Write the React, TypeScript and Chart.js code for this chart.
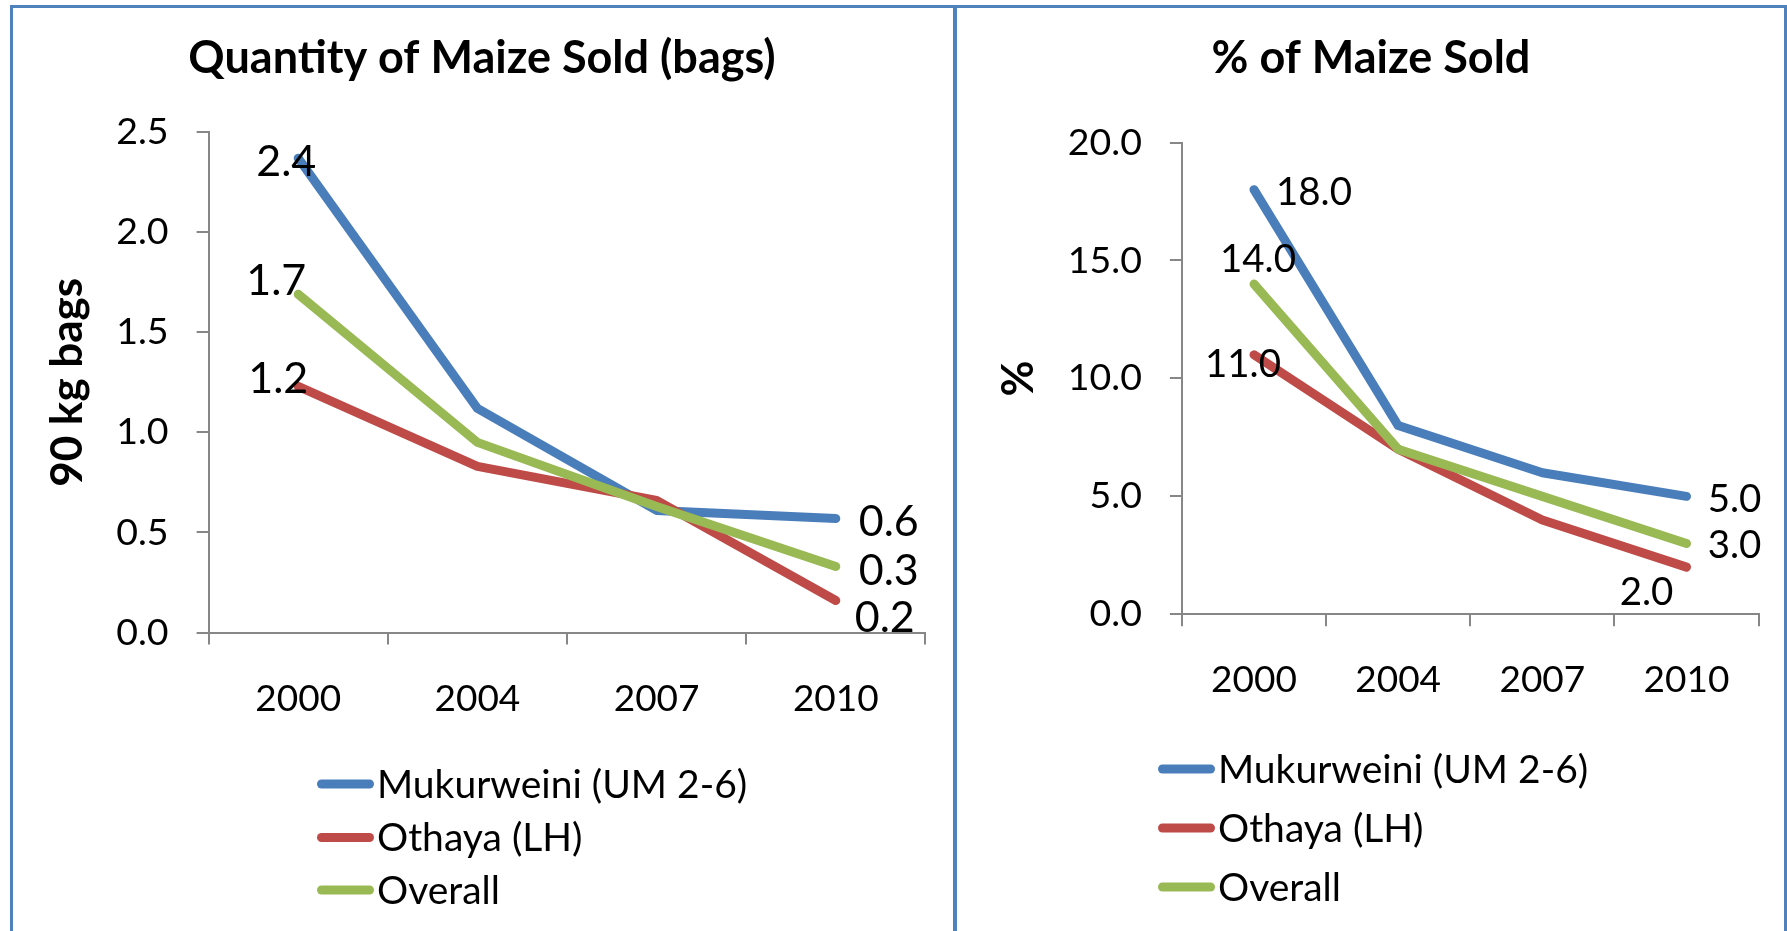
import React, { useEffect, useRef } from 'react';
import { Chart, registerables } from 'chart.js';

Chart.register(...registerables);

// ---------------- data ----------------
const YEARS = ['2000', '2004', '2007', '2010'];
const SERIES_NAMES = ['Mukurweini (UM 2-6)', 'Othaya (LH)', 'Overall'];
const SERIES_COLORS = ['#4A7EBB', '#BE4B48', '#98B954'];

const QTY_MUKURWEINI = [2.37, 1.12, 0.61, 0.57];
const QTY_OTHAYA = [1.23, 0.83, 0.66, 0.16];
const QTY_OVERALL = [1.69, 0.95, 0.63, 0.33];
const QTY_TICKS = [0, 0.5, 1.0, 1.5, 2.0, 2.5];

const PCT_MUKURWEINI = [18, 8, 6, 5];
const PCT_OTHAYA = [11, 7, 4, 2];
const PCT_OVERALL = [14, 7, 5, 3];
const PCT_TICKS = [0, 5, 10, 15, 20];

// ---------------- styles ----------------
const FONT = 'Lato, "Noto Sans", sans-serif';
const PAGE_W = 1787;
const PAGE_H = 931;
const AXIS_COLOR = '#878787';
const BORDER_COLOR = '#4F81BD';
const TITLE_SIZE = 45;
const TICK_SIZE = 37.5;
const XTICK_SIZE = 37;
const AXIS_TITLE_SIZE = 44;
const LEGEND_SIZE = 39;
const CAP_MID = 0.358;
const LINE_W = 9;
const X_AXIS_H = 110;

type LabelPos = { index: number; dx: number; dy: number };

type PanelSpec = {
  canvasLeft: number;
  canvasW: number;
  title: string;
  titleX: number;
  titleBaseline: number;
  yTitle: string;
  yTitlePad: number;
  series: number[][];
  ticks: number[];
  area: { left: number; right: number; top: number; bottom: number };
  labelSize: number;
  labels: LabelPos[][];
  legend: { x0: number; x1: number; textX: number; rows: number[] };
};

const LEFT_PANEL: PanelSpec = {
  canvasLeft: 0,
  canvasW: 953,
  title: 'Quantity of Maize Sold (bags)',
  titleX: 482,
  titleBaseline: 73,
  yTitle: '90 kg bags',
  yTitlePad: 41,
  series: [QTY_MUKURWEINI, QTY_OTHAYA, QTY_OVERALL],
  ticks: QTY_TICKS,
  area: { left: 208.6, right: 925.4, top: 132.2, bottom: 632.5 },
  labelSize: 43,
  labels: [
    [{ index: 0, dx: -12, dy: 2 }, { index: 3, dx: 53, dy: 2 }],
    [{ index: 0, dx: -20, dy: -9 }, { index: 3, dx: 49, dy: 16 }],
    [{ index: 0, dx: -22, dy: -15 }, { index: 3, dx: 53, dy: 3 }],
  ],
  legend: { x0: 317, x1: 374, textX: 377, rows: [784, 837.5, 890] },
};

const RIGHT_PANEL: PanelSpec = {
  canvasLeft: 957,
  canvasW: 830,
  title: '% of Maize Sold',
  titleX: 1371,
  titleBaseline: 73,
  yTitle: '%',
  yTitlePad: 35,
  series: [PCT_MUKURWEINI, PCT_OTHAYA, PCT_OVERALL],
  ticks: PCT_TICKS,
  area: { left: 1181.9, right: 1758.6, top: 142.5, bottom: 614.3 },
  labelSize: 38.5,
  labels: [
    [{ index: 0, dx: 60, dy: 2 }, { index: 3, dx: 48, dy: 2 }],
    [{ index: 0, dx: -11, dy: 8 }, { index: 3, dx: -40, dy: 24 }],
    [{ index: 0, dx: 4, dy: -26 }, { index: 3, dx: 48, dy: 1 }],
  ],
  legend: { x0: 1158, x1: 1215, textX: 1218, rows: [769, 828, 887] },
};

function decorPlugin(spec: PanelSpec) {
  return {
    id: 'decor',
    afterDraw(chart: any) {
      const ctx = chart.ctx as CanvasRenderingContext2D;
      const ox = spec.canvasLeft;
      ctx.save();
      ctx.fillStyle = '#000';
      ctx.textBaseline = 'alphabetic';

      // title
      ctx.font = `bold ${TITLE_SIZE}px ${FONT}`;
      ctx.textAlign = 'center';
      ctx.fillText(spec.title, spec.titleX - ox, spec.titleBaseline);

      // data labels
      ctx.font = `${spec.labelSize}px ${FONT}`;
      ctx.textAlign = 'center';
      spec.labels.forEach((list, di) => {
        const meta = chart.getDatasetMeta(di);
        const values = chart.data.datasets[di].data as number[];
        list.forEach((lp) => {
          const pt = meta.data[lp.index];
          if (!pt) return;
          const txt = Number(values[lp.index]).toFixed(1);
          ctx.fillText(txt, pt.x + lp.dx, pt.y + lp.dy + spec.labelSize * CAP_MID);
        });
      });

      // legend
      ctx.font = `${LEGEND_SIZE}px ${FONT}`;
      ctx.textAlign = 'left';
      chart.data.datasets.forEach((ds: any, i: number) => {
        const y = spec.legend.rows[i];
        ctx.strokeStyle = ds.borderColor;
        ctx.lineWidth = LINE_W;
        ctx.lineCap = 'round';
        ctx.beginPath();
        ctx.moveTo(spec.legend.x0 - ox + LINE_W / 2, y);
        ctx.lineTo(spec.legend.x1 - ox - LINE_W / 2, y);
        ctx.stroke();
        ctx.fillStyle = '#000';
        ctx.fillText(ds.label, spec.legend.textX - ox, y + LEGEND_SIZE * CAP_MID);
      });
      ctx.restore();
    },
  };
}

function buildConfig(spec: PanelSpec): any {
  const ox = spec.canvasLeft;
  const areaLeft = spec.area.left - ox;
  const areaRight = spec.area.right - ox;
  return {
    type: 'line',
    data: {
      labels: YEARS,
      datasets: spec.series.map((vals, i) => ({
        label: SERIES_NAMES[i],
        data: vals,
        borderColor: SERIES_COLORS[i],
        backgroundColor: SERIES_COLORS[i],
        borderWidth: LINE_W,
        borderCapStyle: 'round',
        borderJoinStyle: 'round',
        pointRadius: 0,
        pointHoverRadius: 0,
        tension: 0,
        fill: false,
        order: spec.series.length - i,
      })),
    },
    options: {
      animation: false,
      responsive: false,
      maintainAspectRatio: false,
      events: [],
      layout: {
        padding: {
          left: 0,
          top: spec.area.top,
          right: spec.canvasW - areaRight,
          bottom: PAGE_H - spec.area.bottom - X_AXIS_H,
        },
      },
      scales: {
        x: {
          type: 'category',
          offset: true,
          grid: {
            offset: true,
            drawOnChartArea: false,
            drawTicks: true,
            tickLength: 12,
            color: AXIS_COLOR,
            lineWidth: 2,
          },
          border: { display: true, color: AXIS_COLOR, width: 2 },
          ticks: {
            color: '#000',
            font: { family: FONT, size: XTICK_SIZE },
            padding: 32,
            maxRotation: 0,
            minRotation: 0,
            autoSkip: false,
          },
          afterFit: (s: any) => {
            s.height = X_AXIS_H;
          },
        },
        y: {
          type: 'linear',
          min: spec.ticks[0],
          max: spec.ticks[spec.ticks.length - 1],
          afterBuildTicks: (s: any) => {
            s.ticks = spec.ticks.map((v) => ({ value: v }));
          },
          grid: {
            drawOnChartArea: false,
            drawTicks: true,
            tickLength: 12,
            color: AXIS_COLOR,
            lineWidth: 2,
          },
          border: { display: true, color: AXIS_COLOR, width: 2 },
          ticks: {
            color: '#000',
            font: { family: FONT, size: TICK_SIZE },
            padding: 28,
            callback: (v: any) => Number(v).toFixed(1),
          },
          title: {
            display: true,
            text: spec.yTitle,
            color: '#000',
            font: { family: FONT, size: AXIS_TITLE_SIZE, weight: 'bold' },
            padding: { top: spec.yTitlePad, bottom: 0 },
          },
          afterFit: (s: any) => {
            s.width = areaLeft;
          },
        },
      },
      plugins: {
        legend: { display: false },
        title: { display: false },
        tooltip: { enabled: false },
      },
    },
    plugins: [decorPlugin(spec)],
  };
}

function Panel({ spec }: { spec: PanelSpec }) {
  const ref = useRef<HTMLCanvasElement>(null);
  useEffect(() => {
    if (!ref.current) return;
    const chart = new Chart(ref.current, buildConfig(spec));
    return () => chart.destroy();
  }, [spec]);
  return (
    <canvas
      ref={ref}
      width={spec.canvasW}
      height={PAGE_H}
      style={{
        position: 'absolute',
        left: spec.canvasLeft,
        top: 0,
        width: spec.canvasW,
        height: PAGE_H,
      }}
    />
  );
}

export default function App() {
  const line = (left: number, top: number, width: number, height: number) => (
    <div
      style={{
        position: 'absolute',
        left,
        top,
        width,
        height,
        background: BORDER_COLOR,
        zIndex: 2,
      }}
    />
  );
  return (
    <div
      style={{
        position: 'fixed',
        left: 0,
        top: 0,
        width: PAGE_W,
        height: PAGE_H,
        overflow: 'hidden',
        background: '#fff',
      }}
    >
      <Panel spec={LEFT_PANEL} />
      <Panel spec={RIGHT_PANEL} />
      {line(10, 5, 1777, 3)}
      {line(10, 5, 3, PAGE_H)}
      {line(953, 5, 4, PAGE_H)}
      {line(1784, 5, 3, PAGE_H)}
    </div>
  );
}
